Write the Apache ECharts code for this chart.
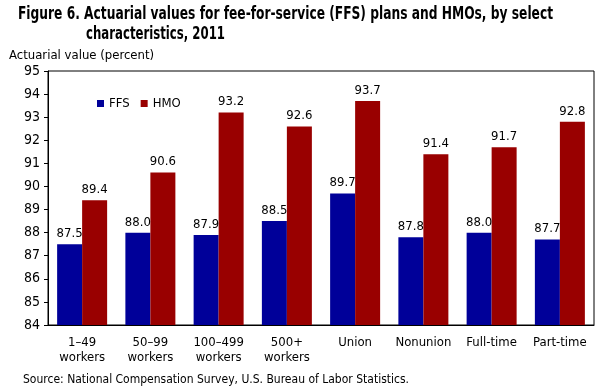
<!DOCTYPE html>
<html><head><meta charset="utf-8">
<script src="https://cdn.jsdelivr.net/npm/echarts@6/dist/echarts.min.js"></script>
<style>html,body{margin:0;padding:0;background:#fff}#c{width:613px;height:392px}</style>
</head><body><div id="c"></div>
<script>
const categories = ["1–49\nworkers","50–99\nworkers","100–499\nworkers","500+\nworkers","Union","Nonunion","Full-time","Part-time"];
const ffs = [87.5, 88.0, 87.9, 88.5, 89.7, 87.8, 88.0, 87.7];
const hmo = [89.4, 90.6, 93.2, 92.6, 93.7, 91.4, 91.7, 92.8];
const seriesNames = ["FFS", "HMO"];
const yMin = 84, yMax = 95, yStep = 1;
const titleLine1 = "Figure 6. Actuarial values for fee-for-service (FFS) plans and HMOs, by select";
const titleLine2 = "characteristics, 2011";
const sourceText = "Source: National Compensation Survey, U.S. Bureau of Labor Statistics.";

const F = '"DejaVu Sans Condensed", "Liberation Sans Narrow", sans-serif';
const TF = 'bold 18px "DejaVu Sans", sans-serif';
const SF = '13px "DejaVu Sans Condensed", sans-serif';
const ctx = document.createElement('canvas').getContext('2d');
ctx.font = TF;
const sx1 = 535 / ctx.measureText(titleLine1).width;
const sx2 = 139 / ctx.measureText(titleLine2).width;
ctx.font = SF;
const sx3 = 386 / ctx.measureText(sourceText).width;

const chart = echarts.init(document.getElementById('c'), null, {renderer: 'canvas'});
const lbl = {show: true, position: 'top', distance: 4, color: '#000', fontFamily: F, fontSize: 13, formatter: p => p.value.toFixed(1)};
chart.setOption({
  animation: false,
  graphic: [
    {type: 'text', x: 18, y: 5, scaleX: sx1, style: {text: titleLine1, font: TF, fill: '#000'}},
    {type: 'text', x: 86, y: 25, scaleX: sx2, style: {text: titleLine2, font: TF, fill: '#000'}},
    {type: 'text', x: 23, y: 373, scaleX: sx3, style: {text: sourceText, font: SF, fill: '#000'}}
  ],
  legend: {data: seriesNames, left: 92, top: 92, itemWidth: 7, itemHeight: 7, itemGap: 11,
    textStyle: {fontFamily: F, fontSize: 13, color: '#000'}, icon: 'rect'},
  grid: {left: 48, right: 19, top: 71, bottom: 67, show: true, borderColor: '#000', borderWidth: 1, containLabel: false},
  xAxis: {type: 'category', data: categories,
    axisLine: {lineStyle: {color: '#000'}}, axisTick: {show: false},
    axisLabel: {fontFamily: F, fontSize: 13, color: '#000', margin: 10, lineHeight: 15, interval: 0}},
  yAxis: {type: 'value', min: yMin, max: yMax, interval: yStep,
    name: "Actuarial value (percent)", nameLocation: 'end', nameGap: 9,
    nameTextStyle: {fontFamily: F, fontSize: 13, color: '#000', align: 'left', padding: [0, 0, 0, -39]},
    axisLine: {show: true, lineStyle: {color: '#000'}},
    axisTick: {show: true, length: 4, lineStyle: {color: '#000'}},
    splitLine: {show: false},
    axisLabel: {fontFamily: F, fontSize: 14, color: '#000', margin: 8}},
  series: [
    {name: seriesNames[0], type: 'bar', data: ffs, barWidth: 25, barGap: '0%', itemStyle: {color: '#000099'}, label: lbl},
    {name: seriesNames[1], type: 'bar', data: hmo, barWidth: 25, barGap: '0%', itemStyle: {color: '#990000'}, label: lbl}
  ]
});
</script></body></html>
